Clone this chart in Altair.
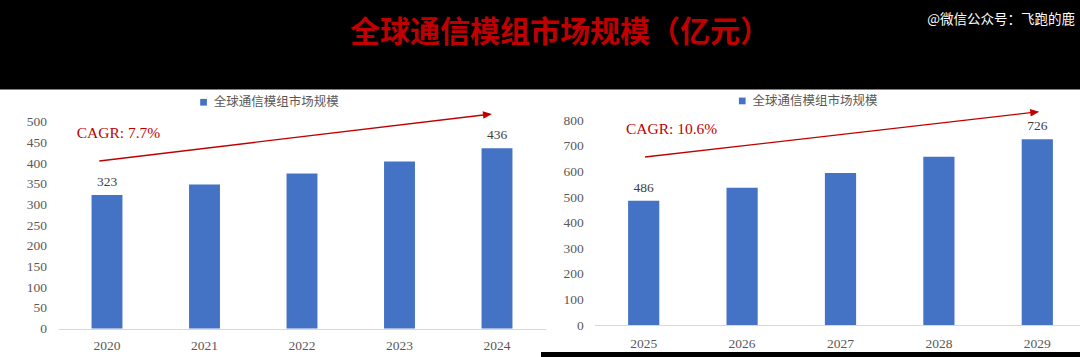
import altair as alt
import pandas as pd

# ---------------- data ----------------
title_text = "全球通信模组市场规模（亿元）"
watermark_text = "@微信公众号：飞跑的鹿"
series_name = "全球通信模组市场规模"

years_left = ["2020", "2021", "2022", "2023", "2024"]
values_left = [323, 348, 375, 404, 436]
labels_left = ["323", "", "", "", "436"]
ticks_left = [0, 50, 100, 150, 200, 250, 300, 350, 400, 450, 500]
cagr_left = "CAGR: 7.7%"

years_right = ["2025", "2026", "2027", "2028", "2029"]
values_right = [486, 537, 594, 658, 726]
labels_right = ["486", "", "", "", "726"]
ticks_right = [0, 100, 200, 300, 400, 500, 600, 700, 800]
cagr_right = "CAGR: 10.6%"

# ---------------- styles ----------------
BAR = "#4472C4"
RED = "#C00000"
GREY = "#595959"
SERIF = "Liberation Serif"
CJK = "Noto Sans CJK SC"
W, H = 1080, 357

one = pd.DataFrame({"k": [0]})


def panel(years, values, labels, ticks, ymax, xrange, yrange, y_axis_x, x_axis_y,
          x_label_pad, legend_x, legend_y):
    df = pd.DataFrame({"year": years, "value": values, "label": labels,
                       "series": [series_name] * len(years)})
    base = alt.Chart(df).encode(
        x=alt.X("year:N", sort=None,
                scale=alt.Scale(range=xrange, paddingInner=0.683, paddingOuter=0.3415),
                axis=alt.Axis(orient="bottom", offset=x_axis_y - H, title=None,
                              labelAngle=0, ticks=False, tickSize=0, grid=False,
                              domainColor="#D9D9D9", domainWidth=1, zindex=1,
                              labelPadding=x_label_pad, labelFont=SERIF,
                              labelFontSize=13.5, labelColor=GREY)),
        y=alt.Y("value:Q",
                scale=alt.Scale(domain=[0, ymax], range=yrange, nice=False, zero=True),
                axis=alt.Axis(orient="left", offset=-y_axis_x, title=None,
                              values=ticks, domain=False, ticks=False, tickSize=0,
                              grid=False, labelPadding=0, labelFont=SERIF, zindex=1,
                              labelFontSize=13.5, labelColor=GREY)),
    )
    bars = base.mark_bar().encode(
        color=alt.Color("series:N",
                        scale=alt.Scale(domain=[series_name], range=[BAR]),
                        legend=alt.Legend(orient="none", legendX=legend_x,
                                          legendY=legend_y, title=None,
                                          symbolType="square", symbolSize=45,
                                          symbolStrokeWidth=0, padding=0,
                                          labelFont=CJK, labelFontSize=12.5,
                                          labelColor=GREY, labelOffset=4))
    )
    text = base.mark_text(baseline="alphabetic", dy=-9, font=SERIF,
                          fontSize=13.5, color="#404040").encode(text="label:N")
    return alt.layer(bars, text)


left = panel(years_left, values_left, labels_left, ticks_left, 500,
             [58.25, 545.75], [328.5, 121.7], 46.5, 329, 9.5, 197.3, 96)
right = panel(years_right, values_right, labels_right, ticks_right, 800,
              [594.5, 1086.5], [325, 120.4], 583.3, 325, 11, 736, 94.7)

# ---------------- decorations ----------------
bg = alt.Chart(one).mark_rect(color="white").encode(
    x=alt.value(0), x2=alt.value(W), y=alt.value(89.5), y2=alt.value(H))
strip = alt.Chart(one).mark_rect(color="black").encode(
    x=alt.value(541), x2=alt.value(W), y=alt.value(352), y2=alt.value(H))

title = alt.Chart(one).mark_text(font=CJK, fontSize=30, fontWeight="bold",
                                 color=RED, align="center", baseline="middle").encode(
    x=alt.value(560), y=alt.value(33), text=alt.value(title_text))
watermark = alt.Chart(one).mark_text(font=CJK, fontSize=13.5, color="white",
                                     align="right", baseline="middle").encode(
    x=alt.value(1075), y=alt.value(20), text=alt.value(watermark_text))


def cagr(txt, x, y):
    return alt.Chart(one).mark_text(font=SERIF, fontSize=15.5, color=RED,
                                    align="left", baseline="middle").encode(
        x=alt.value(x), y=alt.value(y), text=alt.value(txt))


def arrow(x1, y1, x2, y2, angle):
    line = alt.Chart(one).mark_rule(color=RED, strokeWidth=1.3).encode(
        x=alt.value(x1), y=alt.value(y1), x2=alt.value(x2), y2=alt.value(y2))
    head = alt.Chart(one).mark_point(shape="M-1,-0.83L1,0L-1,0.83Z", filled=True,
                                     color=RED, size=81, opacity=1,
                                     angle=angle).encode(
        x=alt.value(x2), y=alt.value(y2))
    return [line, head]


layers = [bg, strip, title, watermark, left, right,
          cagr(cagr_left, 76.7, 132.5), cagr(cagr_right, 626, 129.3)]
layers += arrow(99.3, 161, 487.5, 114.5, 353.15)
layers += arrow(645, 157, 1034.8, 112.2, 353.45)

chart = alt.layer(*layers).resolve_scale(
    x="independent", y="independent", color="independent"
).resolve_axis(x="independent", y="independent").resolve_legend(
    color="independent"
).properties(
    width=W, height=H, padding=0,
    autosize=alt.AutoSizeParams(type="none"), background="black"
).configure_view(strokeWidth=0)

chart.save("out.html", embed_options={"renderer": "svg", "actions": False})
